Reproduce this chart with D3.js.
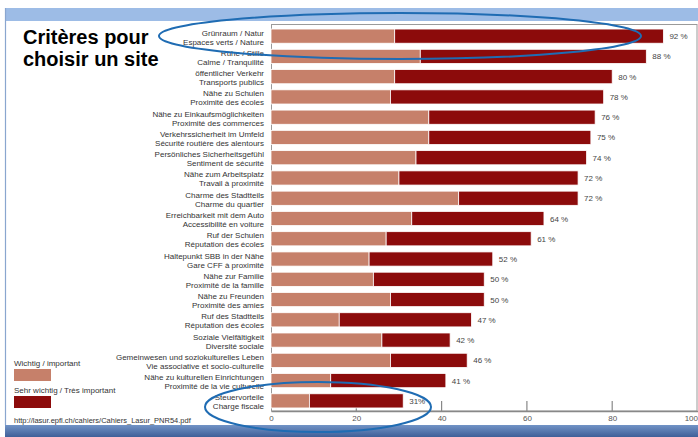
<!DOCTYPE html>
<html>
<head>
<meta charset="utf-8">
<script src="https://cdn.jsdelivr.net/npm/d3@7"></script>
<style>
  html, body { margin: 0; padding: 0; background: #fff; }
  svg { display: block; }
</style>
</head>
<body>
<svg id="chart" width="698" height="437"></svg>
<script>
const categoriesDe = [
  "Grünraum / Natur", "Ruhe / Stille", "öffentlicher Verkehr", "Nähe zu Schulen",
  "Nähe zu Einkaufsmöglichkeiten", "Verkehrssicherheit im Umfeld", "Persönliches Sicherheitsgefühl",
  "Nähe zum Arbeitsplatz", "Charme des Stadtteils", "Erreichbarkeit mit dem Auto",
  "Ruf der Schulen", "Haltepunkt SBB in der Nähe", "Nähe zur Familie", "Nähe zu Freunden",
  "Ruf des Stadtteils", "Soziale Vielfältigkeit", "Gemeinwesen und soziokulturelles Leben",
  "Nähe zu kulturellen Einrichtungen", "Steuervorteile"
];
const categoriesFr = [
  "Espaces verts / Nature", "Calme / Tranquilité", "Transports publics", "Proximité des écoles",
  "Proximité des commerces", "Sécurité routière des alentours", "Sentiment de sécurité",
  "Travail à proximité", "Charme du quartier", "Accessibilité en voiture",
  "Réputation des écoles", "Gare CFF à proximité", "Proximité de la famille", "Proximité des amies",
  "Réputation des écoles", "Diversité sociale", "Vie associative et socio-culturelle",
  "Proximité de la vie culturelle", "Charge fiscale"
];
const importantValues =     [29, 35, 29, 28, 37, 37, 34, 30, 44, 33, 27, 23, 24, 28, 16, 26, 28, 14, 9];
const veryImportantValues = [63, 53, 51, 50, 39, 38, 40, 42, 28, 31, 34, 29, 26, 22, 31, 16, 18, 27, 22];
const valueLabels = ["92 %", "88 %", "80 %", "78 %", "76 %", "75 %", "74 %", "72 %", "72 %", "64 %",
  "61 %", "52 %", "50 %", "50 %", "47 %", "42 %", "46 %", "41 %", "31%"];
const tickValues = [0, 20, 40, 60, 80, 100];
const seriesNames = ["Wichtig / important", "Sehr wichtig / Très important"];
const titleLines = ["Critères pour", "choisir un site"];
const sourceText = "http://lasur.epfl.ch/cahiers/Cahiers_Lasur_PNR54.pdf";

const colLight = "#c6806a";
const colDark = "#8c0b0b";
const textCol = "#333333";

const svg = d3.select("#chart");

// background frame bands
svg.append("rect").attr("x", 6).attr("y", 8).attr("width", 692).attr("height", 13).attr("fill", "#9dbce6");
const grad = svg.append("defs").append("linearGradient").attr("id", "bot").attr("x1", 0).attr("y1", 0).attr("x2", 0).attr("y2", 1);
grad.append("stop").attr("offset", "0%").attr("stop-color", "#7193c6");
grad.append("stop").attr("offset", "100%").attr("stop-color", "#3f5f98");
svg.append("rect").attr("x", 5).attr("y", 425).attr("width", 693).attr("height", 12).attr("fill", "url(#bot)");
svg.append("line").attr("x1", 5.5).attr("x2", 5.5).attr("y1", 8).attr("y2", 425).attr("stroke", "#8aa6cf").attr("stroke-width", 1.2);

const x = d3.scaleLinear().domain([0, 100]).range([271, 697.5]);
const y = d3.scaleBand().domain(d3.range(categoriesDe.length)).range([26, 411]).paddingInner(0.3).paddingOuter(0.15);

// chart frame
svg.append("rect").attr("x", 271.5).attr("y", 24.5).attr("width", 425.5).attr("height", 386.5)
  .attr("fill", "none").attr("stroke", "#9a9a9a").attr("stroke-width", 1);

// axis
const axis = d3.axisBottom(x).tickValues(tickValues).tickSize(0).tickFormat(d3.format("d"));
const gAxis = svg.append("g").attr("transform", `translate(0,${411})`).call(axis);
gAxis.select(".domain").attr("stroke", "#888").attr("stroke-width", 1.5);
gAxis.selectAll("text").attr("dy", "6.5px").attr("font-family", "Liberation Sans, Arial, sans-serif")
  .attr("font-size", "8px").attr("fill", "#555");
gAxis.selectAll(".tick").filter(d => d === 100).select("text").attr("text-anchor", "end").attr("x", 0);
// upward ticks
svg.append("g").selectAll("line").data(tickValues.filter(d => d > 0 && d < 100)).join("line")
  .attr("x1", d => x(d)).attr("x2", d => x(d)).attr("y1", 401).attr("y2", 411)
  .attr("stroke", "#888").attr("stroke-width", 1.2);

// bars
const rows = svg.append("g").selectAll("g").data(d3.range(categoriesDe.length)).join("g");
rows.append("rect")
  .attr("x", x(0)).attr("y", i => y(i))
  .attr("width", i => x(importantValues[i]) - x(0)).attr("height", y.bandwidth())
  .attr("fill", colLight).attr("stroke", "#fff").attr("stroke-width", 0.8);
rows.append("rect")
  .attr("x", i => x(importantValues[i])).attr("y", i => y(i))
  .attr("width", i => x(importantValues[i] + veryImportantValues[i]) - x(importantValues[i])).attr("height", y.bandwidth())
  .attr("fill", colDark).attr("stroke", "#fff").attr("stroke-width", 0.8);
rows.append("text")
  .attr("x", i => x(importantValues[i] + veryImportantValues[i]) + 6)
  .attr("y", i => y(i) + y.bandwidth() / 2 + 3)
  .attr("font-family", "Liberation Sans, Arial, sans-serif").attr("font-size", "8px").attr("fill", "#444")
  .text(i => valueLabels[i]);

// category labels
const lab = svg.append("g").attr("font-family", "Liberation Sans, Arial, sans-serif")
  .attr("font-size", "8px").attr("fill", textCol).attr("text-anchor", "end");
lab.selectAll("text.de").data(d3.range(categoriesDe.length)).join("text").attr("class", "de")
  .attr("x", 264).attr("y", i => y(i) + y.bandwidth() / 2 - 0.5).text(i => categoriesDe[i]);
lab.selectAll("text.fr").data(d3.range(categoriesFr.length)).join("text").attr("class", "fr")
  .attr("x", 264).attr("y", i => y(i) + y.bandwidth() / 2 + 8.5).text(i => categoriesFr[i]);

// title
svg.append("g").selectAll("text").data(titleLines).join("text")
  .attr("x", 23).attr("y", (d, i) => 44 + i * 21.5)
  .attr("font-family", "Liberation Sans, Arial, sans-serif").attr("font-weight", "bold")
  .attr("font-size", "20px").attr("fill", "#000").text(d => d);

// legend
const legend = svg.append("g").attr("font-family", "Liberation Sans, Arial, sans-serif").attr("font-size", "8px").attr("fill", textCol);
const legColors = [colLight, colDark];
seriesNames.forEach((name, i) => {
  legend.append("text").attr("x", 14).attr("y", 366 + i * 27).text(name);
  legend.append("rect").attr("x", 14).attr("y", 369 + i * 27).attr("width", 37).attr("height", 12).attr("fill", legColors[i]);
});
legend.append("text").attr("x", 14).attr("y", 423).attr("font-size", "7.5px").text(sourceText);

// highlight ellipses
svg.append("ellipse").attr("cx", 400).attr("cy", 36).attr("rx", 241).attr("ry", 23)
  .attr("fill", "none").attr("stroke", "#1f6cb3").attr("stroke-width", 2);
svg.append("ellipse").attr("cx", 318).attr("cy", 407).attr("rx", 113).attr("ry", 25)
  .attr("fill", "none").attr("stroke", "#1f6cb3").attr("stroke-width", 2);
</script>
</body>
</html>
